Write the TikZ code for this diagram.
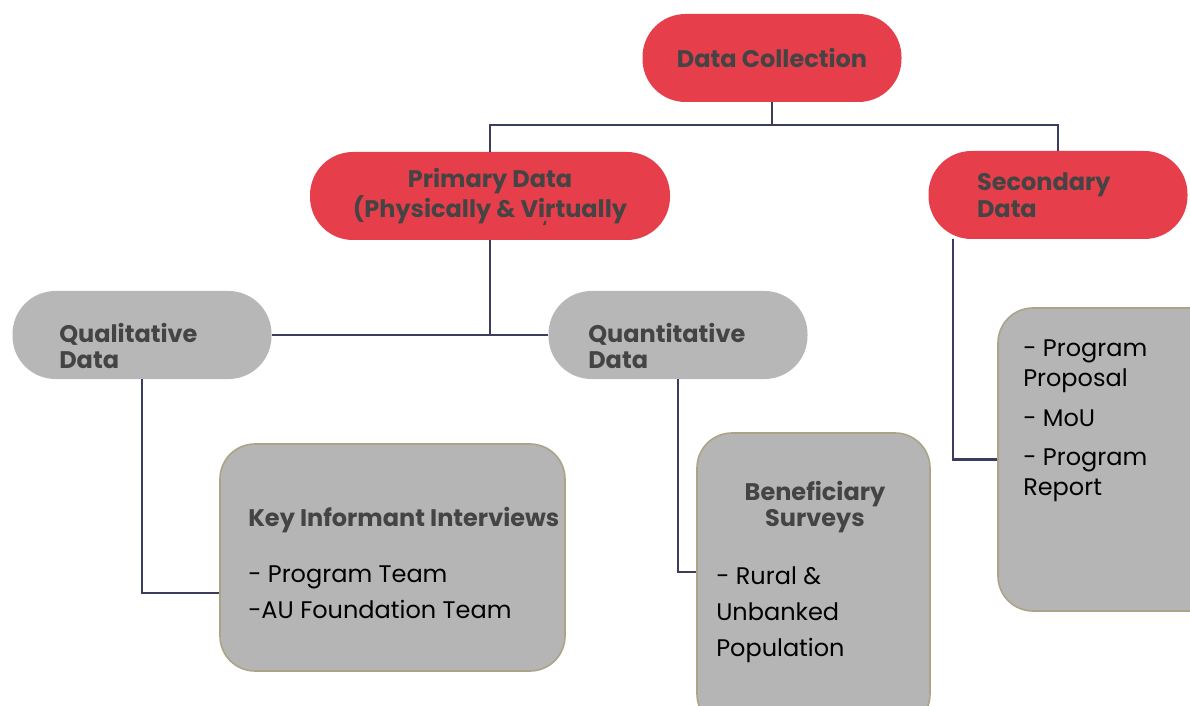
\documentclass[tikz,border=0pt]{standalone}
\usepackage{fontspec}
\setmainfont{Poppins}
\usetikzlibrary{positioning}
\newcommand{\pxu}{0.75pt}
\definecolor{pillred}{HTML}{E63F4B}
\definecolor{pillgray}{HTML}{B7B7B7}
\definecolor{boxgray}{HTML}{B5B5B5}
\definecolor{boxedge}{HTML}{ABA486}
\definecolor{linknavy}{HTML}{3A3E5C}
\definecolor{headtext}{HTML}{444444}
\tikzstyle{redpill} = [rectangle, rounded corners=43*\pxu, minimum width=259*\pxu, minimum height=88*\pxu, fill=pillred, text=headtext, font=\fontsize{18}{20}\selectfont\bfseries, align=center]
\tikzstyle{graypill} = [rectangle, rounded corners=43*\pxu, minimum width=259*\pxu, minimum height=88*\pxu, fill=pillgray]
\tikzstyle{pilltext} = [inner sep=0pt, anchor=west, text=headtext, font=\fontsize{18}{20}\selectfont\bfseries, align=left]
\tikzstyle{listbox} = [rectangle, rounded corners=35*\pxu, draw=boxedge, line width=1.2pt, fill=boxgray]
\tikzstyle{listtext} = [inner sep=0pt, anchor=north west, align=left, font=\fontsize{18}{27}\selectfont]
\tikzstyle{link} = [draw=linknavy, line width=1.6pt]

\begin{document}
\begin{tikzpicture}[x=\pxu, y=-\pxu]
	\useasboundingbox [fill=white] (0,0) rectangle (1190,706);
	% top level
	\node (dc) [redpill] at (772,58) {Data Collection};
	\node (prim) [redpill, minimum width=360*\pxu] at (490,196) {Primary Data\\(Physically \& Virtually};
	\node (tick) [text=headtext, font=\fontsize{12}{12}\selectfont\bfseries, inner sep=0pt] at (545,227) {`};
	\node (sec) [redpill, text width=162*\pxu, align=left] at (1058,195) {Secondary\\Data};
	% second level
	\node (qual) [graypill] at (142,335) {};
	\node (qualtext) [pilltext] at (59,346) {Qualitative\\Data};
	\node (quan) [graypill] at (678,335) {};
	\node (quantext) [pilltext] at (588,346) {Quantitative\\Data};
	% list boxes
	\node (kii) [listbox, minimum width=345*\pxu, minimum height=227*\pxu] at (392.5,557.5) {};
	\node (ben) [listbox, minimum width=233*\pxu, minimum height=296*\pxu] at (813.5,581) {};
	\node (sl) [listbox, minimum width=232*\pxu, minimum height=303*\pxu] at (1114,459.5) {};
	\node (kiihead) [text=headtext, font=\fontsize{18}{20}\selectfont\bfseries, inner sep=0pt, anchor=west] at (248,520) {Key Informant Interviews};
	\node (kiilist) [listtext] at (248,566) {- Program Team\\-AU Foundation Team};
	\node (benhead) [text=headtext, font=\fontsize{18}{20}\selectfont\bfseries, inner sep=0pt, align=center] at (815,507) {Beneficiary\\Surveys};
	\node (benlist) [listtext] at (716,566) {- Rural \&\\Unbanked\\Population};
	\node (sllist) [listtext, font=\fontsize{18}{22.5}\selectfont] at (1023,340) {- Program\\Proposal\\[7pt]- MoU\\[7pt]- Program\\Report};
	% connectors
	\coordinate (split) at (772,125);
	\draw [link] (dc.south) -- (split);
	\draw [link] (split) -| (prim.north);
	\draw [link] (split) -| (sec.north);
	\draw [link] (qual.east) -- (quan.west);
	\draw [link] (prim.south) -- (prim.south |- qual.east);
	\draw [link] (qual.south) |- ([yshift=-26.6pt]kii.west);
	\draw [link] (quan.south) |- ([yshift=6.8pt]ben.west);
	\draw [link] ([xshift=-78.75pt]sec.south) |- (sl.west);
\end{tikzpicture}
\end{document}
